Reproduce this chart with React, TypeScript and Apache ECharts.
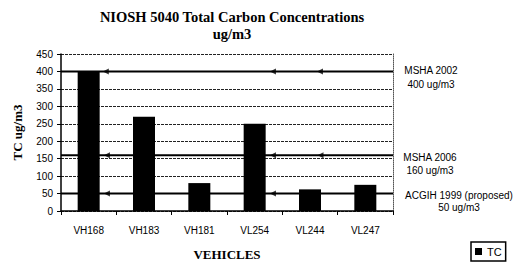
import React, { useEffect, useRef } from "react";
import * as echarts from "echarts";

const categories = ["VH168", "VH183", "VH181", "VL254", "VL244", "VL247"];
const tcValues = [400, 270, 80, 250, 62, 75];
const limitValues = [400, 160, 50];
const limitLabels = ["MSHA 2002\n400 ug/m3", "MSHA 2006\n160 ug/m3", "ACGIH 1999 (proposed)\n50 ug/m3"];
const arrowPositions = [
  [0.81, 3.83, 4.68],
  [0.83, 3.83, 4.69],
  [0.83, 3.83],
];

export default function App() {
  const ref = useRef<HTMLDivElement>(null);
  useEffect(() => {
    if (!ref.current) return;
    const chart = echarts.init(ref.current, undefined, { renderer: "svg" });
    const sans = "Liberation Sans, Arial, sans-serif";
    const serif = "Liberation Serif, Times New Roman, serif";

    const lineSeries = limitValues.map((v) => ({
      type: "line",
      xAxisIndex: 1,
      yAxisIndex: 0,
      data: [[0, v], [categories.length, v]],
      showSymbol: false,
      symbol: "none",
      lineStyle: { color: "#000", width: 2 },
      z: 3,
      silent: true,
    }));
    const arrowSeries = limitValues.map((v, i) => ({
      type: "scatter",
      xAxisIndex: 1,
      yAxisIndex: 0,
      data: arrowPositions[i].map((p) => [p, v]),
      symbol: "triangle",
      symbolRotate: 90,
      symbolSize: [6, 6],
      itemStyle: { color: "#000" },
      z: 4,
      silent: true,
    }));

    const labelPos = [
      { x: 431, y: 64 },
      { x: 430, y: 150.5 },
      { x: 459, y: 189 },
    ];

    chart.setOption({
      animation: false,
      backgroundColor: "#fff",
      title: {
        text: "NIOSH 5040 Total Carbon Concentrations\nug/m3",
        left: 227,
        top: 3,
        textAlign: "center",
        textStyle: {
          fontFamily: serif,
          fontWeight: "bold",
          fontSize: 14.5,
          lineHeight: 17,
          color: "#000",
        },
      },
      legend: {
        data: [{ name: "TC", icon: "rect" }],
        left: 471,
        top: 242,
        padding: [4, 4, 4, 4],
        itemWidth: 7,
        itemHeight: 7,
        borderColor: "#000",
        borderWidth: 1.5,
        textStyle: { fontFamily: sans, fontSize: 11, color: "#000" },
      },
      grid: { left: 61, right: 125, top: 54, bottom: 47 },
      xAxis: [
        {
          type: "category",
          data: categories,
          boundaryGap: true,
          name: "VEHICLES",
          nameLocation: "middle",
          nameGap: 37,
          nameTextStyle: { fontFamily: serif, fontWeight: "bold", fontSize: 13, color: "#000" },
          axisLine: { lineStyle: { color: "#000", width: 1.5 } },
          axisTick: { show: true, length: 4, lineStyle: { color: "#000" } },
          axisLabel: { fontFamily: sans, fontSize: 10, color: "#000", margin: 14 },
        },
        {
          type: "value",
          min: 0,
          max: categories.length,
          show: false,
        },
      ],
      yAxis: [
        {
          type: "value",
          min: 0,
          max: 450,
          interval: 50,
          name: "TC ug/m3",
          nameLocation: "middle",
          nameRotate: 90,
          nameGap: 37,
          nameTextStyle: { fontFamily: serif, fontWeight: "bold", fontSize: 13, color: "#000" },
          axisLine: { show: true, lineStyle: { color: "#000", width: 1.5 } },
          axisTick: { show: true, length: 4, lineStyle: { color: "#000" } },
          axisLabel: { fontFamily: sans, fontSize: 10, color: "#000", margin: 8 },
          splitLine: { show: true, lineStyle: { color: "#222", width: 1, type: [3, 1] } },
        },
        {
          type: "value",
          min: 0,
          max: 450,
          interval: 50,
          position: "right",
          axisLine: { show: true, lineStyle: { color: "#555", width: 1, type: "dotted" } },
          axisTick: { show: false },
          axisLabel: { show: false },
          splitLine: { show: false },
        },
      ],
      series: [
        ...lineSeries,
        ...arrowSeries,
        {
          name: "TC",
          type: "bar",
          xAxisIndex: 0,
          yAxisIndex: 0,
          data: tcValues,
          barWidth: 22,
          itemStyle: { color: "#000" },
          z: 5,
        },
      ],
      graphic: limitLabels.map((t, i) => ({
        type: "text",
        x: labelPos[i].x,
        y: labelPos[i].y,
        style: {
          text: t,
          fill: "#000",
          font: `10px ${sans}`,
          textAlign: "center",
          textVerticalAlign: "top",
          lineHeight: i === 2 ? 12 : 13.5,
        },
      })),
    });
    return () => chart.dispose();
  }, []);
  return (
    <div
      ref={ref}
      style={{ position: "fixed", left: 0, top: 0, width: 518, height: 266, background: "#fff" }}
    />
  );
}
